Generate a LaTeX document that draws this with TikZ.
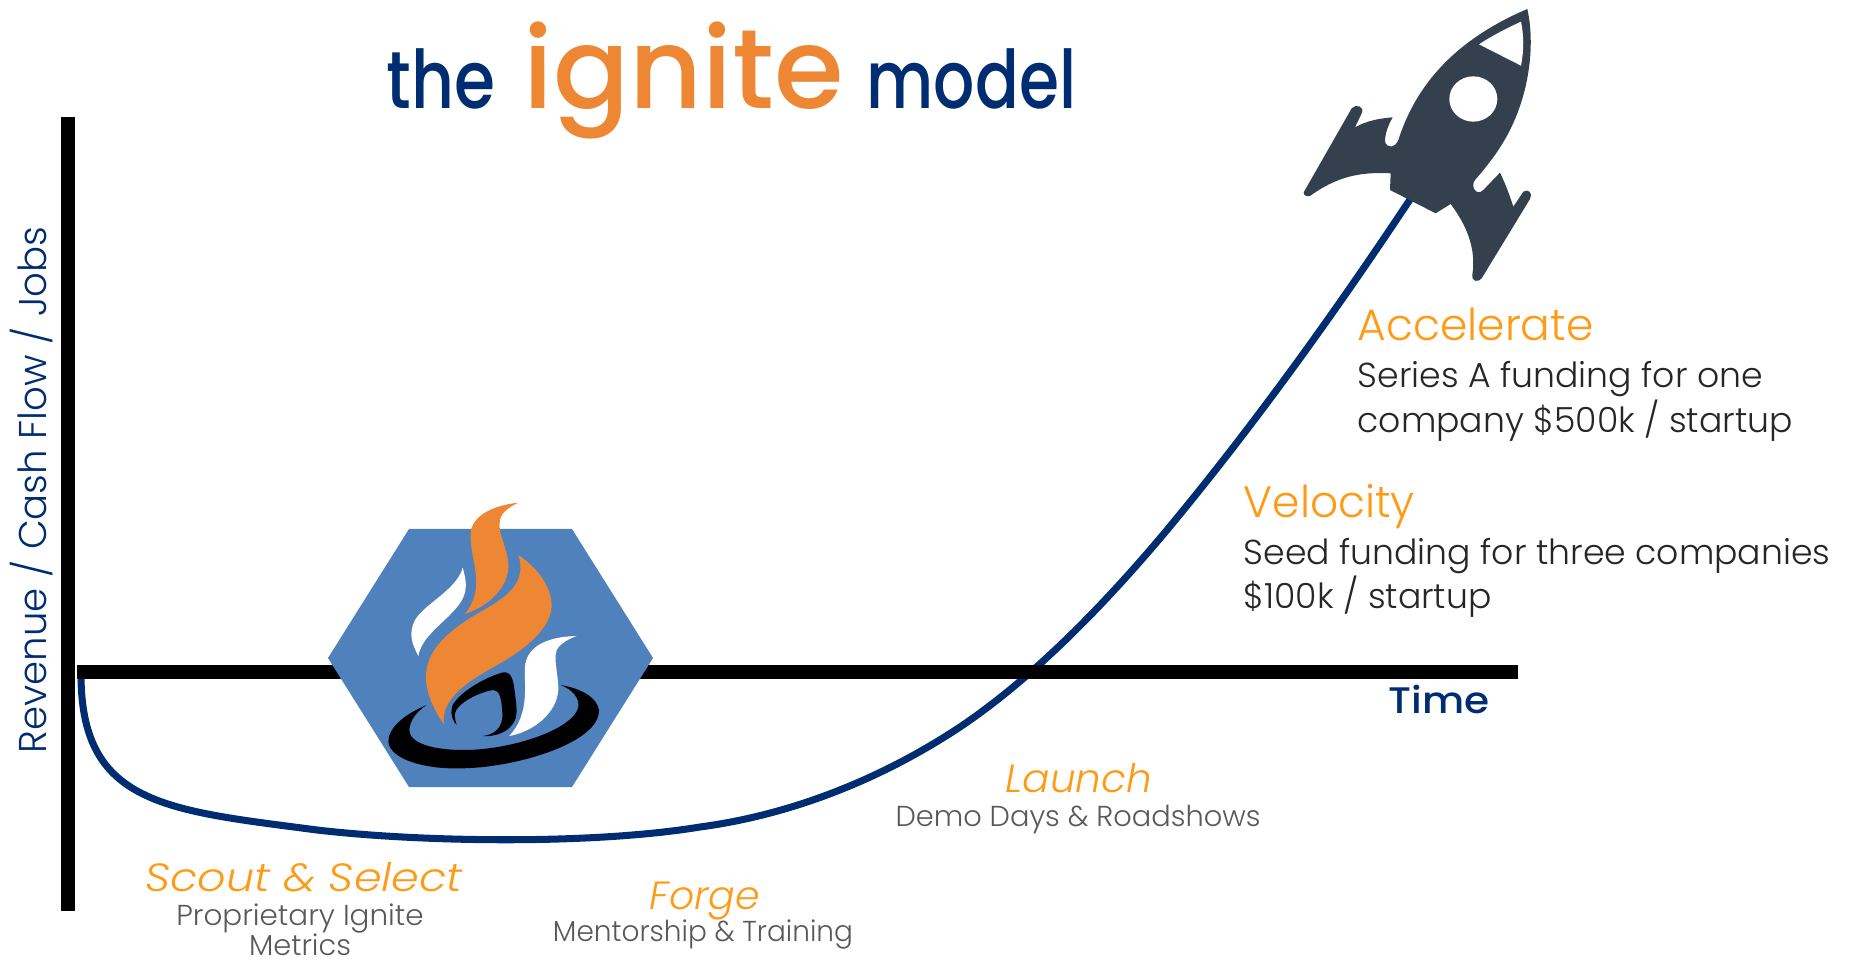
\documentclass[tikz,border=0pt]{standalone}
\usepackage{fontspec}
\setmainfont{Poppins Light}
\newfontfamily\titlefont{Poppins Medium}
\usepackage{xcolor}
\definecolor{navy}{HTML}{002D72}
\definecolor{flame}{HTML}{ED8733}
\definecolor{stepcol}{HTML}{FF9A14}
\definecolor{hexblue}{HTML}{4F81BD}
\definecolor{rocketcol}{HTML}{35404F}
\definecolor{subgray}{HTML}{595959}
\tikzset{
  axisline/.style={line width=3.9pt,black},
  titlenode/.style={anchor=base west,inner sep=0pt},
  stephead/.style={anchor=base,inner sep=0pt,text=stepcol,font=\fontsize{11.2}{13}\selectfont\itshape},
  stepsub/.style={anchor=base,inner sep=0pt,text=subgray,font=\fontsize{8.2}{10}\selectfont},
  fundhead/.style={anchor=base west,inner sep=0pt,text=stepcol,font=\fontsize{12.5}{14}\selectfont},
  fundsub/.style={anchor=base west,inner sep=0pt,text=black!85,font=\fontsize{9.85}{12}\selectfont},
}
\begin{document}
\begin{tikzpicture}[x=0.01cm,y=-0.01cm]
\useasboundingbox (0,0) rectangle (1851,961);

% Growth curve
\draw[navy, line width=2pt] (81,672) .. controls (80,805) and (165,810) .. (317,830)
  .. controls (420,842) and (590,845) .. (700,827)
  .. controls (790,815) and (880,780) .. (960,727)
  .. controls (1030,680) and (1100,610) .. (1167,530)
  .. controls (1250,430) and (1330,320) .. (1411,198);

% Axes
\draw[axisline] (68,117) -- (68,911);
\draw[axisline] (77,672) -- (1518,672);

% Hexagon
\fill[hexblue] (409,529) -- (572,529) -- (653,658) -- (572,787) -- (409,787) -- (328,658) -- cycle;

% Flame
\begin{scope}[shift={(300,480)},scale=1/3]
\fill[flame] (655,68) .. controls (590,75) and (525,100) .. (513,150)
  .. controls (505,210) and (540,280) .. (525,340)
  .. controls (518,370) and (505,390) .. (495,402)
  .. controls (560,380) and (620,330) .. (625,265)
  .. controls (628,210) and (590,160) .. (600,120)
  .. controls (605,95) and (630,80) .. (655,68) -- cycle;
\fill[flame] (655,225) .. controls (700,255) and (755,310) .. (755,380)
  .. controls (750,450) and (670,510) .. (600,550)
  .. controls (520,595) and (420,650) .. (432,733)
  .. controls (405,695) and (375,640) .. (378,580)
  .. controls (385,490) and (480,430) .. (560,385)
  .. controls (630,345) and (680,300) .. (655,225) -- cycle;
\fill[white] (488,263) .. controls (505,320) and (500,350) .. (465,388)
  .. controls (430,430) and (365,470) .. (355,528)
  .. controls (335,490) and (325,460) .. (345,420)
  .. controls (375,370) and (470,330) .. (488,263) -- cycle;
\fill[white] (830,468) .. controls (740,470) and (680,500) .. (675,560)
  .. controls (672,620) and (690,700) .. (628,768)
  .. controls (700,755) and (770,700) .. (775,630)
  .. controls (775,580) and (760,540) .. (770,510)
  .. controls (780,490) and (810,475) .. (830,468) -- cycle;
\fill[black] (548,768) .. controls (580,765) and (610,745) .. (607,700)
  .. controls (605,660) and (600,630) .. (580,630)
  .. controls (540,635) and (470,670) .. (465,700)
  .. controls (463,715) and (470,735) .. (470,735)
  .. controls (450,715) and (450,680) .. (465,665)
  .. controls (490,630) and (560,590) .. (610,577)
  .. controls (635,575) and (640,600) .. (645,640)
  .. controls (650,690) and (660,720) .. (620,750)
  .. controls (600,765) and (570,770) .. (548,768) -- cycle;
\fill[black] (380,675) .. controls (320,700) and (265,740) .. (265,785)
  .. controls (270,840) and (380,868) .. (480,865)
  .. controls (640,865) and (900,790) .. (897,690)
  .. controls (890,650) and (840,625) .. (782,615)
  .. controls (820,630) and (838,655) .. (835,680)
  .. controls (825,745) and (640,810) .. (490,810)
  .. controls (400,810) and (328,790) .. (328,750)
  .. controls (330,720) and (350,695) .. (380,675) -- cycle;
\end{scope}

% Rocket
\begin{scope}[shift={(1280,0)},scale=1/3]
\fill[rocketcol] (742,27) .. controls (765,130) and (750,270) .. (690,390)
  .. controls (660,450) and (620,500) .. (585,540)
  .. controls (570,560) and (590,590) .. (610,570)
  -- (660,518) .. controls (680,560) and (690,590) .. (700,620)
  -- (730,575) .. controls (745,565) and (760,580) .. (750,597)
  -- (605,835) .. controls (595,848) and (575,845) .. (577,825)
  .. controls (590,740) and (555,670) .. (512,612)
  -- (467,640) -- (330,570) -- (332,520)
  .. controls (240,515) and (170,530) .. (90,588)
  .. controls (75,592) and (65,580) .. (75,570)
  -- (215,325) .. controls (228,310) and (255,320) .. (245,340)
  -- (225,382) .. controls (260,362) and (300,355) .. (338,352)
  .. controls (325,375) and (315,400) .. (315,425)
  .. controls (320,445) and (345,445) .. (355,420)
  .. controls (400,280) and (500,130) .. (742,27) -- cycle;
\fill[white] (580,297) ellipse [x radius=72, y radius=68];
\fill[white] (723,65) .. controls (732,110) and (732,150) .. (723,197) -- (597,133) .. controls (640,105) and (680,85) .. (723,65) -- cycle;
\end{scope}

% Title
\node[titlenode, text=navy, font=\titlefont\fontsize{23}{26}\selectfont] (the) at (386,109) {\scalebox{0.82}[1]{the}};
\node[titlenode, text=flame, font=\titlefont\fontsize{32}{36}\selectfont] (ignite) at (523,109) {ignite};
\node[titlenode, text=navy, font=\titlefont\fontsize{23}{26}\selectfont] (model) at (866,109) {\scalebox{0.8}[1]{model}};

% Axis labels
\node[inner sep=0pt, anchor=base, rotate=90, text=navy, font=\fontsize{11}{14}\selectfont] (ylabel) at (46,490) {Revenue / Cash Flow / Jobs};
\node[inner sep=0pt, anchor=base, text=navy, font=\titlefont\fontsize{10.5}{12}\selectfont] (xlabel) at (1439,713) {\scalebox{1.1}[1]{Time}};

% Stages
\node[stephead] (scout) at (304,891) {\scalebox{1.13}[1]{Scout \& Select}};
\node[stepsub] (scoutsub) at (300,925) {\scalebox{1.02}[1]{Proprietary Ignite}};
\node[stepsub] (scoutsubb) at (300,955) {Metrics};
\node[stephead] (forge) at (705,909) {Forge};
\node[stepsub] (forgesub) at (703,941) {\scalebox{0.97}[1]{Mentorship \& Training}};
\node[stephead] (launch) at (1079,792) {\scalebox{1.03}[1]{Launch}};
\node[stepsub] (launchsub) at (1078,826) {Demo Days \& Roadshows};

% Funding
\node[fundhead] (velocity) at (1243,518) {Velocity};
\node[fundsub] (velsub) at (1243,564) {Seed funding for three companies};
\node[fundsub] (velsubb) at (1243,609) {\$100k / startup};
\node[fundhead] (accel) at (1357,341) {Accelerate};
\node[fundsub] (accsub) at (1357,388) {Series A funding for one};
\node[fundsub] (accsubb) at (1357,433) {company \$500k / startup};
\end{tikzpicture}
\end{document}
